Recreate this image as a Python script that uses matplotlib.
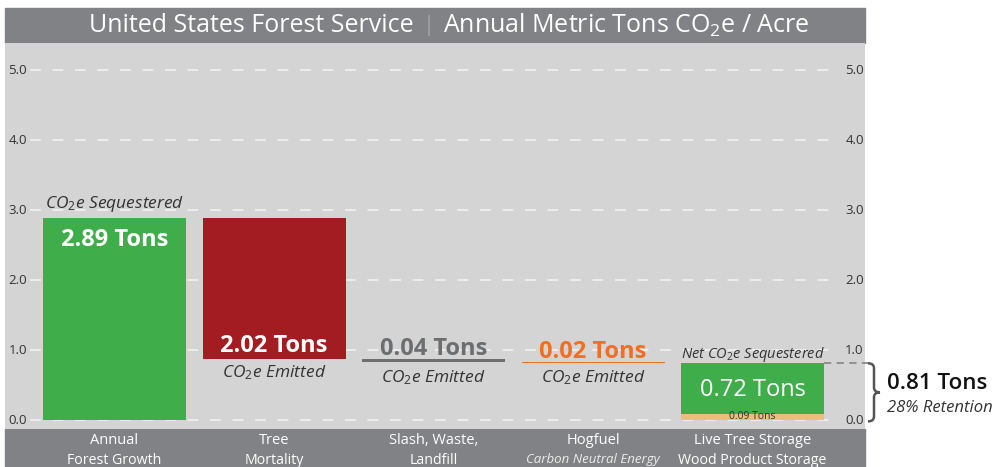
import numpy as np
import matplotlib
matplotlib.use('Agg')
import matplotlib.pyplot as plt
from matplotlib.patches import Rectangle, PathPatch
from matplotlib.path import Path
from matplotlib import transforms

plt.rcParams['font.family'] = ['Open Sans', 'DejaVu Sans']
plt.rcParams['mathtext.fontset'] = 'custom'
plt.rcParams['mathtext.rm'] = 'Open Sans'
plt.rcParams['mathtext.it'] = 'Open Sans:italic'
plt.rcParams['mathtext.bf'] = 'Open Sans:bold'

# data (annual metric tons CO2e / acre)
categories = ['Annual\nForest Growth', 'Tree\nMortality', 'Slash, Waste,\nLandfill',
              'Hogfuel', 'Live Tree Storage\nWood Product Storage']
subtitles = ['', '', '', 'Carbon Neutral Energy', '']
growth = 2.89
mortality = 2.02
slash = 0.04
hogfuel = 0.02
wood_product = 0.09
net = round(growth - mortality - slash - hogfuel, 2)      # 0.81
live_tree = round(net - wood_product, 2)                    # 0.72
retention = 28
yticks = [0.0, 1.0, 2.0, 3.0, 4.0, 5.0]

GREEN = '#3fae4a'
RED = '#a21c21'
GRAY = '#6d6e70'
ORANGE = '#f26f22'
BEIGE = '#e8c07a'
PANEL = '#d3d4d3'
BAR = '#808285'
INK = '#333333'

W, H = 996, 467
fig = plt.figure(figsize=(W / 100, H / 100), dpi=100)

# gray panels (title bar + category bar)
fig.patches.append(Rectangle((5 / W, (H - 43) / H), 860 / W, 35 / H,
                             transform=fig.transFigure, color=BAR, zorder=-1))
fig.patches.append(Rectangle((5 / W, 0), 860 / W, 38 / H,
                             transform=fig.transFigure, color=BAR, zorder=-1))

ax = fig.add_axes([5 / W, 38 / H, 860 / W, 386 / H])
ax.set_facecolor(PANEL)
ax.set_xlim((5 - 114.5) / 159.5, (865 - 114.5) / 159.5)
ax.set_ylim(-9 / 70, 377 / 70)
for s in ax.spines.values():
    s.set_visible(False)
ax.set_xticks([])
ax.set_yticks([])

# grid
ax.hlines(yticks, -0.53, 4.53, colors='#f2f2f2', lw=1.2,
          linestyles=(0, (6.5, 7)), zorder=1)
ytr = ax.get_yaxis_transform()
for t in yticks:
    ax.text(0.0256, t, f'{t:.1f}', transform=ytr, ha='right', va='center',
            fontsize=9.5, color=INK)
    ax.text(0.977, t, f'{t:.1f}', transform=ytr, ha='left', va='center',
            fontsize=9.5, color=INK)

x = np.arange(len(categories))
bw = 143 / 159.5
ax.bar(x[0], growth, bw, color=GREEN, zorder=2)
ax.bar(x[1], mortality, bw, bottom=growth - mortality, color=RED, zorder=2)
ax.bar(x[2], slash, bw, bottom=net + hogfuel, color=GRAY, zorder=2)
ax.bar(x[3], hogfuel, bw, bottom=net, color=ORANGE, zorder=2)
ax.bar(x[4], live_tree, bw, bottom=wood_product, color=GREEN, zorder=2)
ax.bar(x[4], wood_product, bw, color=BEIGE, zorder=2)

co2 = 'CO$_2$e'
# bar annotations
ax.text(x[0], growth + 0.2, co2 + ' Sequestered', ha='center', va='center',
        fontsize=12.5, style='italic', color=INK)
ax.text(x[0], growth - 0.32, f'{growth:.2f} Tons', ha='center', va='center',
        fontsize=17, weight='bold', color='white', zorder=3)
bot = growth - mortality
ax.text(x[1], bot + 0.19, f'{mortality:.2f} Tons', ha='center', va='center',
        fontsize=17, weight='bold', color='white', zorder=3)
ax.text(x[1], bot - 0.2, co2 + ' Emitted', ha='center', va='center',
        fontsize=12.5, style='italic', color=INK)
ax.text(x[2], net + hogfuel + slash + 0.14, f'{slash:.2f} Tons', ha='center',
        va='center', fontsize=17, weight='bold', color=GRAY)
ax.text(x[2], net + hogfuel - 0.22, co2 + ' Emitted', ha='center', va='center',
        fontsize=12.5, style='italic', color=INK)
ax.text(x[3], net + hogfuel + 0.14, f'{hogfuel:.2f} Tons', ha='center',
        va='center', fontsize=17, weight='bold', color=ORANGE)
ax.text(x[3], net - 0.21, co2 + ' Emitted', ha='center', va='center',
        fontsize=12.5, style='italic', color=INK)
ax.text(x[4], net + 0.12, 'Net ' + co2 + ' Sequestered', ha='center',
        va='center', fontsize=10.5, style='italic', color=INK)
ax.text(x[4], wood_product + live_tree / 2 - 0.02, f'{live_tree:.2f} Tons',
        ha='center', va='center', fontsize=17, color='white', zorder=3)
ax.text(x[4], wood_product / 2, f'{wood_product:.2f} Tons', ha='center',
        va='center', fontsize=7.5, color=INK, zorder=3)

# category labels in the bottom bar
btr = transforms.blended_transform_factory(ax.transData, fig.transFigure)
for xi, lab, sub in zip(x, categories, subtitles):
    lines = lab.split('\n')
    ax.text(xi, (H - 441) / H, lines[0], transform=btr, ha='center', va='center',
            fontsize=10.5, color='white')
    if len(lines) > 1:
        ax.text(xi, (H - 460) / H, lines[1], transform=btr, ha='center',
                va='center', fontsize=10.2, color='white')
    if sub:
        ax.text(xi, (H - 460) / H, sub, transform=btr, ha='center', va='center',
                fontsize=9.5, style='italic', color='#ececec')

# title
ty = (H - 25.5) / H
fig.text(414 / W, ty, 'United States Forest Service', ha='right', va='center',
         fontsize=18, color='white')
fig.text(428 / W, ty, '|', ha='center', va='center', fontsize=16,
         color='#b5b6b8', weight='light')
fig.text(443 / W, ty, 'Annual Metric Tons ' + co2 + ' / Acre', ha='left',
         va='center', fontsize=18, color='white')

# net retention bracket on the right
ax.plot([x[4] + bw / 2, (868 - 114.5) / 159.5], [net, net], color='#8a8a8a',
        lw=1.3, dashes=(4, 3), clip_on=False, zorder=2)
atr = transforms.blended_transform_factory(ax.transAxes, ax.transData)
x0, xm, xp = (868 - 5) / 860, (874 - 5) / 860, (880 - 5) / 860
top, bottom = net, -0.02
mid = (top + bottom) / 2
r = 0.07
verts = [(x0, top), (xm, top), (xm, top - r), (xm, mid + r), (xm, mid), (xp, mid),
         (xm, mid), (xm, mid - r), (xm, bottom + r), (xm, bottom), (x0, bottom)]
codes = [Path.MOVETO, Path.CURVE3, Path.CURVE3, Path.LINETO, Path.CURVE3, Path.CURVE3,
         Path.CURVE3, Path.CURVE3, Path.LINETO, Path.CURVE3, Path.CURVE3]
ax.add_patch(PathPatch(Path(verts, codes), transform=atr, fill=False,
                       edgecolor='#555555', lw=1.8, clip_on=False))
ax.text((887 - 5) / 860, mid + 0.12, f'{net:.2f} Tons', transform=atr, ha='left',
        va='center', fontsize=16, weight='semibold', color='#111111')
ax.text((887 - 5) / 860, mid - 0.23, f'{retention}% Retention', transform=atr,
        ha='left', va='center', fontsize=12, style='italic', color=INK)

fig.savefig('out.png', dpi=100)
